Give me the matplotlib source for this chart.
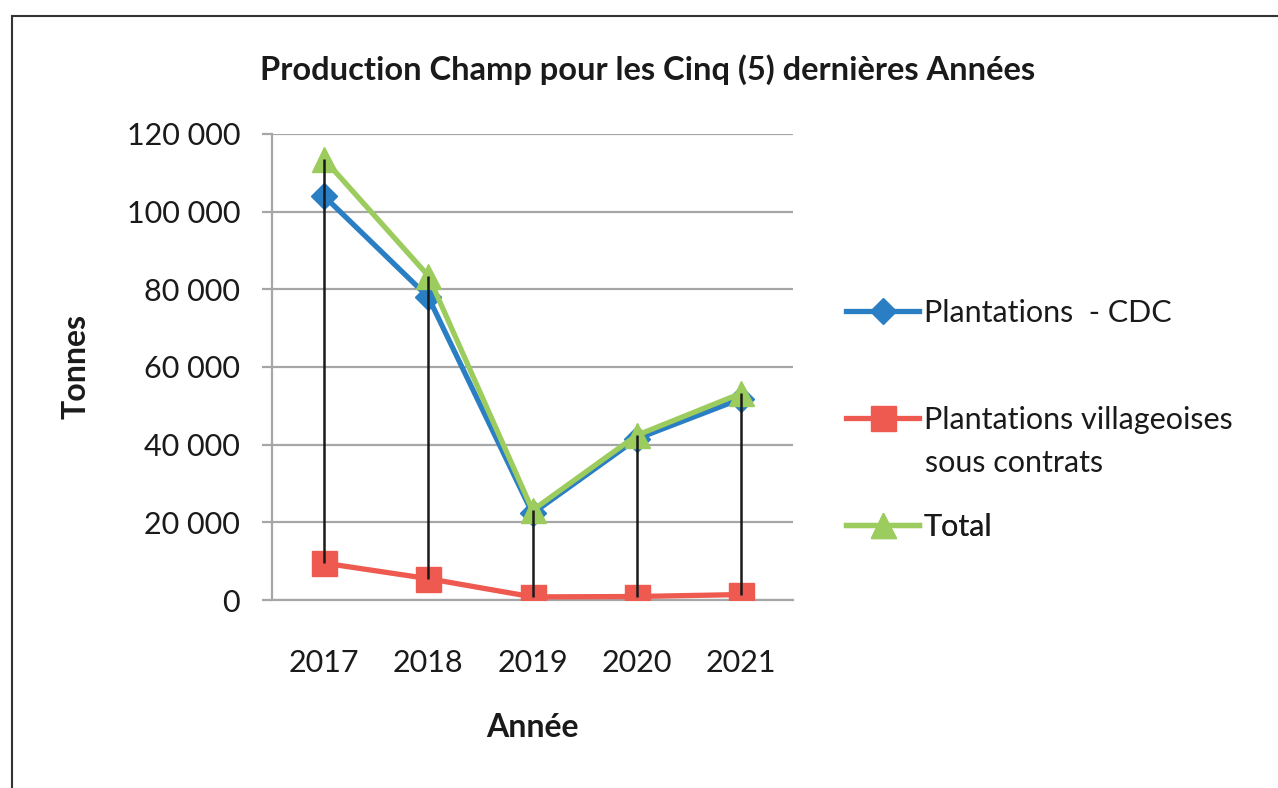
import matplotlib.pyplot as plt
from matplotlib.patches import Rectangle
from matplotlib.ticker import FuncFormatter

# data
years = ['2017', '2018', '2019', '2020', '2021']
cdc = [104000, 78000, 22300, 41500, 51800]
villageois = [9500, 5500, 800, 900, 1400]
total = [113500, 83500, 23100, 42400, 53200]

blue = '#2A7EC3'
red = '#EE5A4F'
green = '#9CCB5E'
grey = '#A6A6A6'
ink = '#1a1a1a'

plt.rcParams['font.family'] = ['Lato', 'DejaVu Sans']

fig = plt.figure(figsize=(12.78, 7.88), dpi=100)
ax = fig.add_axes([272 / 1278, 1 - 600 / 788, (793 - 272) / 1278, (600 - 134) / 788])

x = list(range(len(years)))

# high-low lines between the series at each year
lows = [min(a, b, c) for a, b, c in zip(cdc, villageois, total)]
highs = [max(a, b, c) for a, b, c in zip(cdc, villageois, total)]
ax.vlines(x, lows, highs, color=ink, lw=1.8, zorder=5)

l1, = ax.plot(x, cdc, color=blue, lw=3.8, marker='D', ms=13, zorder=3)
l2, = ax.plot(x, villageois, color=red, lw=3.8, marker='s', ms=18, zorder=3)
l3, = ax.plot(x, total, color=green, lw=3.8, marker='^', ms=18, zorder=4)

ax.set_xlim(-0.5, len(years) - 0.5)
ax.set_ylim(0, 120000)
ax.set_yticks(range(0, 120001, 20000))
ax.yaxis.set_major_formatter(FuncFormatter(lambda v, p: f'{int(v):,}'.replace(',', ' ')))
ax.set_xticks(x)
ax.set_xticklabels(years)

ax.grid(axis='y', color=grey, lw=1.6)
ax.set_axisbelow(True)
for s in ['top', 'right']:
    ax.spines[s].set_visible(False)
for s in ['left', 'bottom']:
    ax.spines[s].set_color(grey)
    ax.spines[s].set_linewidth(1.6)
ax.tick_params(axis='y', length=7, width=1.6, color=grey, pad=16, labelsize=22, labelcolor=ink)
ax.tick_params(axis='x', length=0, pad=35, labelsize=22, labelcolor=ink)

ax.set_ylabel('Tonnes', fontsize=23, fontweight='bold', labelpad=26, color=ink)
ax.set_xlabel('Année', fontsize=23, fontweight='bold', labelpad=26, color=ink)

fig.text(648 / 1278, 1 - 70 / 788, 'Production Champ pour les Cinq (5) dernières Années',
         ha='center', va='center', fontsize=23.5, fontweight='bold', color=ink)

# legend entries placed one by one (Excel spacing is uneven)
entries = [(l1, 'Plantations  - CDC', 313), (l2, 'Plantations villageoises', 420), (l3, 'Total', 527)]
for h, lab, yp in entries:
    leg = ax.legend([h], [lab], loc='center left', bbox_to_anchor=(846 / 1278, 1 - yp / 788),
                    bbox_transform=fig.transFigure, frameon=False, fontsize=22,
                    handlelength=2.4, handletextpad=0.15, borderpad=0, borderaxespad=0)
    for t in leg.get_texts():
        t.set_color(ink)
    ax.add_artist(leg)
fig.text(925 / 1278, 1 - 463 / 788, 'sous contrats', ha='left', va='center', fontsize=22, color=ink)

# chart frame (cropped on the right and bottom)
fig.patches.append(Rectangle((12 / 1278, -0.05), 1.1, 1 - 16 / 788 + 0.05,
                             transform=fig.transFigure, fill=False, ec='#333333', lw=1.5))

fig.savefig('out.png', dpi=100)
